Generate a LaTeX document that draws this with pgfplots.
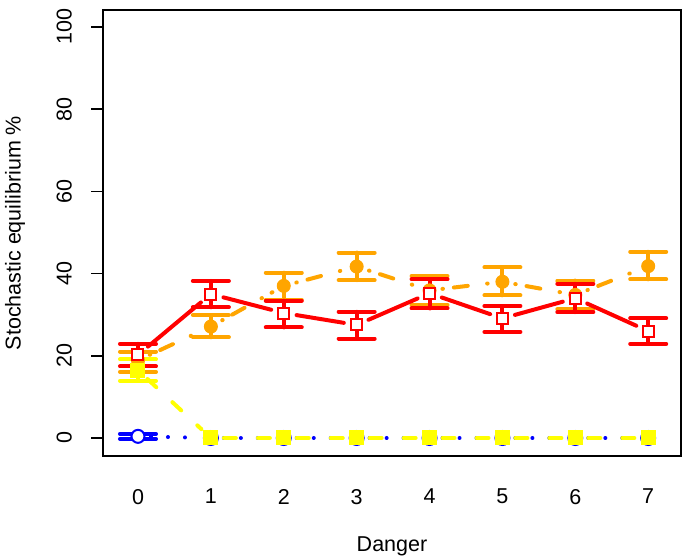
\documentclass[border=0pt]{standalone}
\usepackage{fontspec}
\setmainfont{Liberation Sans}
\usepackage{pgfplots}
\pgfplotsset{compat=1.18}
\definecolor{rRed}{RGB}{255,0,0}
\definecolor{rOrange}{RGB}{255,165,0}
\definecolor{rYellow}{RGB}{255,255,0}
\definecolor{rBlue}{RGB}{0,0,255}
\newcommand\fs{\fontsize{21.5}{25}\selectfont}
\pgfplotsset{
  segbase/.style={line width=4pt, line cap=round, shorten <=13pt, shorten >=13pt, forget plot, mark=none},
  redseg/.style={segbase, rRed, solid},
  orangeseg/.style={segbase, rOrange, dash pattern=on 0.5pt off 11pt on 14pt off 19.5pt},
  yellowseg/.style={segbase, rYellow, dash pattern=on 12pt off 22pt},
  blueseg/.style={segbase, rBlue, dash pattern=on 0pt off 17pt},
  ebars/.style={error bars/.cd, y dir=both, y explicit, error mark=|,
    error bar style={line width=4pt, line cap=round, solid, #1},
    error mark options={#1, mark size=18pt, line width=4pt, line cap=round, solid}},
}
\newcommand\seg[3]{\addplot[#1] coordinates {#2 #3};}
\begin{document}
\begin{tikzpicture}
\useasboundingbox (0,0) rectangle (682pt,558pt);
\begin{axis}[
  at={(103pt,102pt)}, anchor=south west,
  scale only axis, width=578pt, height=446pt,
  xmin=-0.48, xmax=7.45, ymin=-4.38, ymax=104.1,
  axis line style={line width=1.5pt},
  xtick={0,...,7}, ytick={0,20,...,100},
  xtick pos=bottom, ytick pos=left, tick align=outside,
  x tick style={draw=none}, y tick style={line width=1.5pt, black},
  major tick length=12pt,
  /pgf/number format/assume math mode=true,
  ticklabel style={font=\fs},
  yticklabel style={rotate=90, anchor=south, inner sep=0pt},
  xticklabel style={anchor=north, inner sep=0pt},
  yticklabel shift=19pt,
  xticklabel shift=21pt,
  xlabel={Danger}, ylabel={Stochastic equilibrium \%},
  label style={font=\fs},
  xlabel style={at={(axis description cs:0.5,-0.2018)}, anchor=center},
  ylabel style={at={(axis description cs:-0.1522,0.5)}, anchor=center},
  clip=false,
]
% ---- blue (dotted, open circles)
\seg{blueseg}{(0,0.4)}{(1,0)}
\seg{blueseg}{(1,0)}{(2,0)}
\seg{blueseg}{(2,0)}{(3,0)}
\seg{blueseg}{(3,0)}{(4,0)}
\seg{blueseg}{(4,0)}{(5,0)}
\seg{blueseg}{(5,0)}{(6,0)}
\seg{blueseg}{(6,0)}{(7,0)}
\addplot[rBlue, only marks, mark=*, mark size=6.5pt, line width=2pt,
  mark options={fill=white, draw=rBlue, solid}, ebars=rBlue]
  coordinates {(0,0.4) +- (0,0.6)};
\addplot[rBlue, only marks, mark=*, mark size=7pt, line width=2pt,
  mark options={fill=white, draw=rBlue, solid}]
  coordinates {(1,0) (2,0) (3,0) (4,0) (5,0) (6,0) (7,0)};
% ---- orange (dot-dash, filled circles)
\seg{orangeseg}{(0,18.9)}{(1,27.1)}
\seg{orangeseg}{(1,27.1)}{(2,37.0)}
\seg{orangeseg}{(2,37.0)}{(3,41.7)}
\seg{orangeseg}{(3,41.7)}{(4,35.9)}
\seg{orangeseg}{(4,35.9)}{(5,38.0)}
\seg{orangeseg}{(5,38.0)}{(6,34.8)}
\seg{orangeseg}{(6,34.8)}{(7,41.8)}
\addplot[rOrange, only marks, mark=*, mark size=6.5pt, line width=1pt,
  mark options={fill=rOrange, draw=rOrange, solid}, ebars=rOrange]
  coordinates {(0,18.9) += (0,2.1) -= (0,2.8)
               (1,27.1) += (0,2.8) -= (0,2.6)
               (2,37.0) += (0,3.2) -= (0,3.4)
               (3,41.7) += (0,3.4) -= (0,3.3)
               (4,35.9) += (0,3.5) -= (0,3.5)
               (5,38.0) += (0,3.5) -= (0,3.3)
               (6,34.8) += (0,3.5) -= (0,3.5)
               (7,41.8) += (0,3.5) -= (0,3.2)};
% ---- yellow (dashed, filled squares)
\seg{yellowseg}{(0,16.5)}{(1,0)}
\seg{yellowseg}{(1,0)}{(2,0)}
\seg{yellowseg}{(2,0)}{(3,0)}
\seg{yellowseg}{(3,0)}{(4,0)}
\seg{yellowseg}{(4,0)}{(5,0)}
\seg{yellowseg}{(5,0)}{(6,0)}
\seg{yellowseg}{(6,0)}{(7,0)}
\addplot[rYellow, only marks, mark=square*, mark size=7pt, line width=1pt,
  mark options={fill=rYellow, draw=rYellow, solid}, ebars=rYellow]
  coordinates {(0,16.5) +- (0,2.6)};
\addplot[rYellow, only marks, mark=square*, mark size=7pt, line width=1pt,
  mark options={fill=rYellow, draw=rYellow, solid}]
  coordinates {(1,0) (2,0) (3,0) (4,0) (5,0) (6,0) (7,0)};
% ---- red (solid, open squares)
\seg{redseg}{(0,20.2)}{(1,35.0)}
\seg{redseg}{(1,35.0)}{(2,30.4)}
\seg{redseg}{(2,30.4)}{(3,27.5)}
\seg{redseg}{(3,27.5)}{(4,35.2)}
\seg{redseg}{(4,35.2)}{(5,29.1)}
\seg{redseg}{(5,29.1)}{(6,34.0)}
\seg{redseg}{(6,34.0)}{(7,26.0)}
\addplot[rRed, only marks, mark=square*, mark size=5.5pt, line width=2pt,
  mark options={fill=white, draw=rRed, solid}, ebars=rRed]
  coordinates {(0,20.2) += (0,2.7) -= (0,2.8)
               (1,35.0) += (0,3.2) -= (0,3.2)
               (2,30.4) += (0,3.0) -= (0,3.5)
               (3,27.5) += (0,3.2) -= (0,3.3)
               (4,35.2) += (0,3.4) -= (0,3.7)
               (5,29.1) += (0,3.0) -= (0,3.3)
               (6,34.0) += (0,3.5) -= (0,3.4)
               (7,26.0) += (0,3.1) -= (0,3.1)};
\end{axis}
\end{tikzpicture}
\end{document}
